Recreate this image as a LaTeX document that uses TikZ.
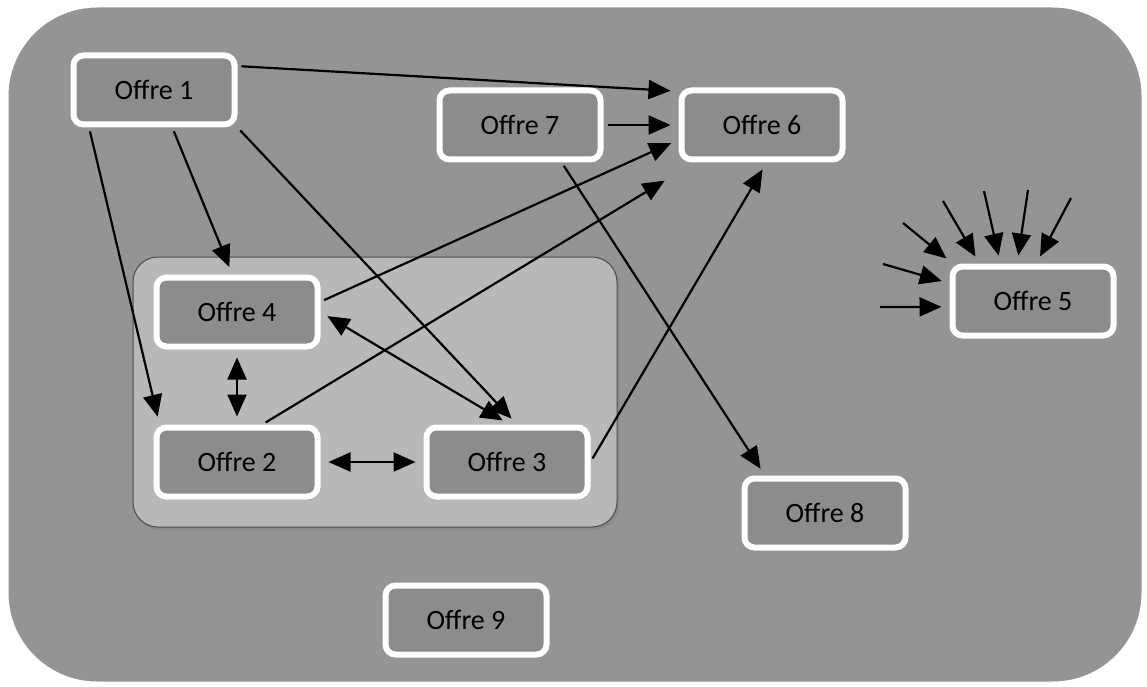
\documentclass[tikz,border=0pt]{standalone}
\usepackage{fontspec}
\setmainfont{Carlito}
\usetikzlibrary{arrows.meta,shadows}
\tikzset{
  offre/.style = {draw = white, line width = 6pt, fill = black!45, rounded corners = 10pt,
    minimum width = 161pt, minimum height = 69pt, inner sep = 0pt,
    font = \fontsize{28}{30}\selectfont,
    drop shadow = {shadow xshift = 2pt, shadow yshift = -3pt, opacity = .5}},
  link/.style = {->, line width = 2.2pt, shorten >= 8pt, shorten <= 4pt}
}
\begin{document}
\begin{tikzpicture}[x = 1pt, y = 1pt, >={Triangle[length = 22pt, width = 19pt]}]
\useasboundingbox (0,0) rectangle (1147,-687);
% Background
\fill[white] (0,0) rectangle (1147,-687);
\draw[draw = white, line width = 3pt, fill = black!42, rounded corners = 90pt] (7,-6) rectangle (1143,-683);
% Group of offers 2, 3, 4
\draw[draw = black!70, line width = 1pt, fill = black!28, rounded corners = 25pt,
  drop shadow = {shadow xshift = 2pt, shadow yshift = -3pt, opacity = .5}] (133,-257) rectangle (617,-527);
% Offers
\node[offre] (o1) at (154,-90) {Offre 1};
\node[offre] (o7) at (520,-125) {Offre 7};
\node[offre] (o6) at (762,-125) {Offre 6};
\node[offre] (o4) at (237,-312) {Offre 4};
\node[offre] (o2) at (237,-462) {Offre 2};
\node[offre] (o3) at (507,-462) {Offre 3};
\node[offre] (o5) at (1033,-301) {Offre 5};
\node[offre] (o8) at (825,-513) {Offre 8};
\node[offre] (o9) at (466,-620) {Offre 9};
% Links
\draw[link] (o1.16) -- (o6.158);
\draw[link] (o1.-64) -- (o4.97);
\draw[link] (o1.-150) -- ([xshift = 6pt]o2.north west);
\draw[link] (o1.south east) -- (o3.75);
\draw[link] (o7.east) -- (o6.west);
\draw[link] (o7.-42) -- (o8.148);
\draw[link] (o4.7) -- (o6.190);
\draw[link] (o2.56) -- ([shift = {(-7pt,-14pt)}]o6.south west);
\draw[link] (o3.east) -- (o6.-83);
\draw[link, <->, shorten <= 8pt] (o4.east) -- (o3.86);
\draw[link, <->, shorten <= 8pt] (o4.south) -- (o2.north);
\draw[link, <->, shorten <= 8pt] (o2.east) -- (o3.west);
% Incoming links of Offre 5
\coordinate (i1) at (880,-307);
\coordinate (i2) at (883,-264);
\coordinate (i3) at (903,-223);
\coordinate (i4) at (943,-201);
\coordinate (i5) at (984,-191);
\coordinate (i6) at (1028,-190);
\coordinate (i7) at (1071,-198);
\foreach \src/\dst in {i1/184, i2/168, i3/155, i4/145, i5/131, i6/113, i7/85}
  \draw[link, shorten <= 0pt] (\src) -- (o5.\dst);
\end{tikzpicture}
\end{document}
